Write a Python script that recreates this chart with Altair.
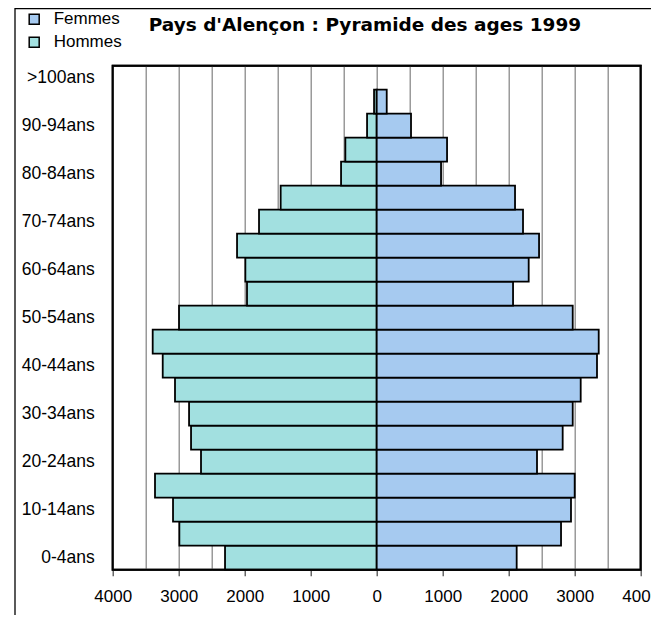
import altair as alt
import pandas as pd

# Age groups (bottom to top)
ages = ["0-4ans", "5-9ans", "10-14ans", "15-19ans", "20-24ans", "25-29ans",
        "30-34ans", "35-39ans", "40-44ans", "45-49ans", "50-54ans", "55-59ans",
        "60-64ans", "65-69ans", "70-74ans", "75-79ans", "80-84ans", "85-89ans",
        "90-94ans", "95-99ans", ">100ans"]
hommes = [2298, 2990, 3086, 3359, 2662, 2813, 2843, 3056, 3242, 3394, 2995,
          1965, 1990, 2116, 1783, 1455, 540, 475, 146, 40, None]
femmes = [2121, 2793, 2944, 3000, 2429, 2818, 2970, 3091, 3338, 3364, 2970,
          2066, 2303, 2460, 2217, 2096, 975, 1066, 520, 152, None]
series = ["Femmes", "Hommes"]
colors = ["#a6caf0", "#a2e0e0"]
title_text = "Pays d'Alençon : Pyramide des ages 1999"

rows = []
for a, h, f in zip(ages, hommes, femmes):
    if h is not None:
        rows.append({"age": a, "sexe": "Hommes", "val": -h})
    if f is not None:
        rows.append({"age": a, "sexe": "Femmes", "val": f})
df = pd.DataFrame(rows)

W, H = 528, 504
FONT = "Liberation Sans"

grid_vals = list(range(-4000, 4001, 500))

bars = alt.Chart(df).mark_bar(stroke="black", strokeWidth=1.8, opacity=1).encode(
    x=alt.X("val:Q",
            scale=alt.Scale(domain=[-4000, 4000], nice=False),
            axis=alt.Axis(values=grid_vals, grid=True, gridColor="#808080",
                          gridWidth=1.2, domain=False, title=None,
                          labelExpr="datum.value % 1000 === 0 ? format(abs(datum.value), 'd') : ''",
                          labelOverlap=False, labelFlush=False,
                          tickSize=6, tickColor="#404040", tickWidth=1.2,
                          tickOpacity={"condition": {"test": "datum.value % 1000 === 0", "value": 1}, "value": 0},
                          labelFontSize=17, labelPadding=13, labelFont=FONT,
                          labelColor="black")),
    y=alt.Y("age:N",
            scale=alt.Scale(domain=ages[::-1], paddingInner=0, paddingOuter=0),
            axis=alt.Axis(values=ages[::2], ticks=False, domain=False, title=None,
                          labelPadding=18.5, labelFontSize=17.5, labelFont=FONT,
                          labelColor="black")),
    color=alt.Color("sexe:N",
                    scale=alt.Scale(domain=series, range=colors),
                    legend=alt.Legend(orient="none", legendX=-87, legendY=-55,
                                      title=None, symbolType="square",
                                      symbolSize=100, symbolStrokeColor="black",
                                      symbolStrokeWidth=1.5, symbolOpacity=1,
                                      labelFontSize=17, labelFont=FONT,
                                      labelOffset=11, rowPadding=5, padding=0,
                                      labelColor="black")),
)

frame_v = alt.Chart(alt.Data(values=[{}])).mark_rule(color="black", strokeWidth=1.3).encode(
    x=alt.value(-97.7), y=alt.value(-58), y2=alt.value(H + 80))
frame_h = alt.Chart(alt.Data(values=[{}])).mark_rule(color="black", strokeWidth=1.3).encode(
    x=alt.value(-97.7), x2=alt.value(W + 40), y=alt.value(-57.2))
# plot-area frame drawn on top of the grid
plot_frame = alt.Chart(alt.Data(values=[{}])).mark_rect(
    fill=None, stroke="black", strokeWidth=2).encode(
    x=alt.value(0), x2=alt.value(W), y=alt.value(0), y2=alt.value(H))

title = alt.Chart(alt.Data(values=[{}])).mark_text(
    font="DejaVu Sans", fontSize=18.5, fontWeight="bold", align="left",
    baseline="alphabetic", color="black").encode(
    x=alt.value(36), y=alt.value(-35), text=alt.value(title_text))

chart = alt.layer(bars, plot_frame, frame_v, frame_h, title).properties(
    width=W, height=H,
    background="white",
    autosize=alt.AutoSizeParams(type="none"),
    padding={"left": 104.7, "top": 57.7, "right": 10, "bottom": 45},
).configure_view(stroke="black", strokeWidth=2)

chart.save("out.html", embed_options={"renderer": "svg", "actions": False})
